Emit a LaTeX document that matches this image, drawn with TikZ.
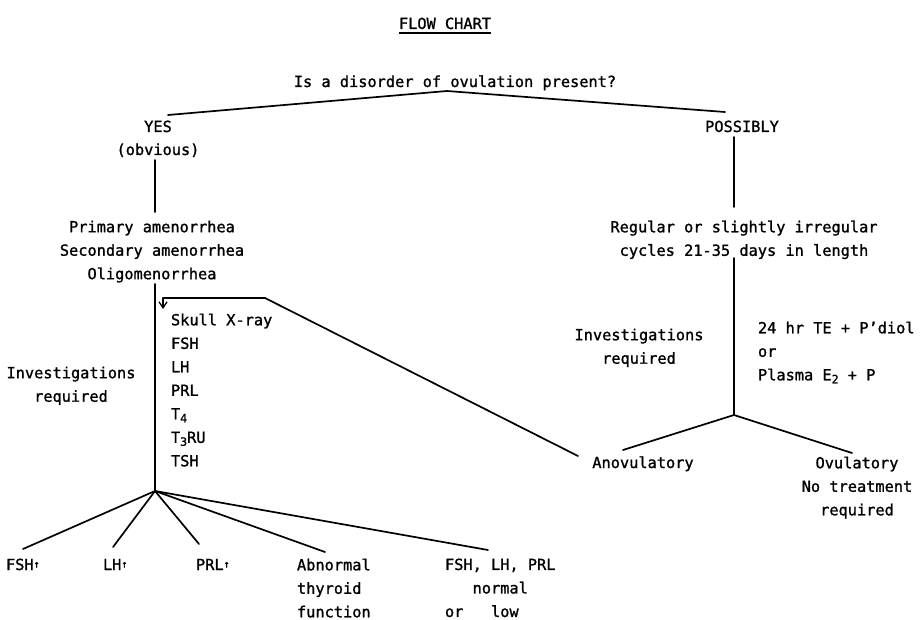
\documentclass[tikz,border=0pt]{standalone}
\usepackage{fontspec}
\setmainfont[FakeBold=1.2]{DejaVu Sans Mono}
\setmonofont{DejaVu Sans Mono}
\usetikzlibrary{arrows.meta}
\newcommand\lsub[1]{\raisebox{-3pt}{\fontsize{11.5}{11.5}\selectfont #1}}
\newcommand\upa{\raisebox{2.5pt}{\fontsize{10}{10}\selectfont ↑}}
\begin{document}
\begin{tikzpicture}[x=1pt,y=-1pt,
  every node/.style={font=\fontsize{15.3}{23.5}\selectfont, inner sep=0pt, outer sep=0pt},
  lbl/.style={anchor=base},
  lnk/.style={line width=1.7pt, line cap=round, line join=round},
  tipdown/.style={-{Straight Barb[length=6pt,width=8pt,line width=1.3pt]}}
]
\useasboundingbox (0,0) rectangle (921,620);
\fill[white] (0,0) rectangle (921,620);

% title
\node[lbl] (title) at (445,29) {FLOW CHART};
\draw[line width=1.1pt] ([yshift=-4pt]title.base west) -- ([yshift=-4pt]title.base east);

% question
\node[lbl] (q) at (455,87) {Is a disorder of ovulation present?};
\coordinate (apex) at (447,91);
\coordinate (qL) at (168,115);
\coordinate (qR) at (725,112);
\draw[lnk] (qL) -- (apex) -- (qR);

% YES branch
\node[lbl] (yes) at (158,132) {YES};
\node[lbl] (obv) at (158,155) {(obvious)};
\coordinate (y1) at (155,160);
\coordinate (y2) at (155,212);
\draw[lnk] (y1) -- (y2);

\node[anchor=north, align=center] (amen) at (152,220.6)
  {Primary amenorrhea\\Secondary amenorrhea\\Oligomenorrhea};
\coordinate (y3) at (155,284);
\coordinate (jL) at (155,491);
\draw[lnk] (y3) -- (jL);

\node[anchor=north west, align=left] (tests) at (171,313.6)
  {Skull X-ray\\FSH\\LH\\PRL\\T\lsub{4}\\T\lsub{3}RU\\TSH};
\node[anchor=north, align=center] (invL) at (71,366.6) {Investigations\\required};

% feedback arrow
\coordinate (ac) at (265,298);
\coordinate (ah) at (163,298);
\coordinate (at) at (163,309);
\draw[lnk, tipdown] (ac) -- (ah) -- (at);

% bottom outcomes
\node[anchor=base west] (fsh) at (6,570) {FSH\upa};
\node[anchor=base west] (lh) at (103,570) {LH\upa};
\node[anchor=base west] (prl) at (196,570) {PRL\upa};
\node[anchor=north west, align=left] (thy) at (297,558.6) {Abnormal\\thyroid\\function};
\node[anchor=north west, align=left] (norm) at (445,558.6)
  {FSH, LH, PRL\\\hphantom{FSH}normal\\or\hphantom{FSH}low};
\coordinate (bF) at (23,549);
\coordinate (bL) at (113,547);
\coordinate (bP) at (199,544);
\coordinate (bT) at (325,552);
\coordinate (bN) at (488,550);
\draw[lnk] (jL) -- (bF);
\draw[lnk] (jL) -- (bL);
\draw[lnk] (jL) -- (bP);
\draw[lnk] (jL) -- (bT);
\draw[lnk] (jL) -- (bN);

% POSSIBLY branch
\node[lbl] (poss) at (742,132) {POSSIBLY};
\coordinate (p1) at (734,137);
\coordinate (p2) at (734,207);
\draw[lnk] (p1) -- (p2);
\node[anchor=north, align=center] (reg) at (744,220.6)
  {Regular or slightly irregular\\cycles 21-35 days in length};
\coordinate (p3) at (734,258);
\coordinate (jR) at (734,415);
\draw[lnk] (p3) -- (jR);
\node[anchor=north, align=center] (invR) at (639,328.6) {Investigations\\required};
\node[anchor=north west, align=left] (hormone) at (758,321.6)
  {24 hr TE + P’diol\\or\\Plasma E\lsub{2} + P};

\node[lbl] (anov) at (643,468) {Anovulatory};
\node[anchor=north, align=center] (ovul) at (857,456.6) {Ovulatory\\No treatment\\required};
\coordinate (rA) at (623,450);
\coordinate (rO) at (852,453);
\draw[lnk] (jR) -- (rA);
\draw[lnk] (jR) -- (rO);

\coordinate (aE) at (578,456);
\draw[lnk] (ac) -- (aE);
\end{tikzpicture}
\end{document}
